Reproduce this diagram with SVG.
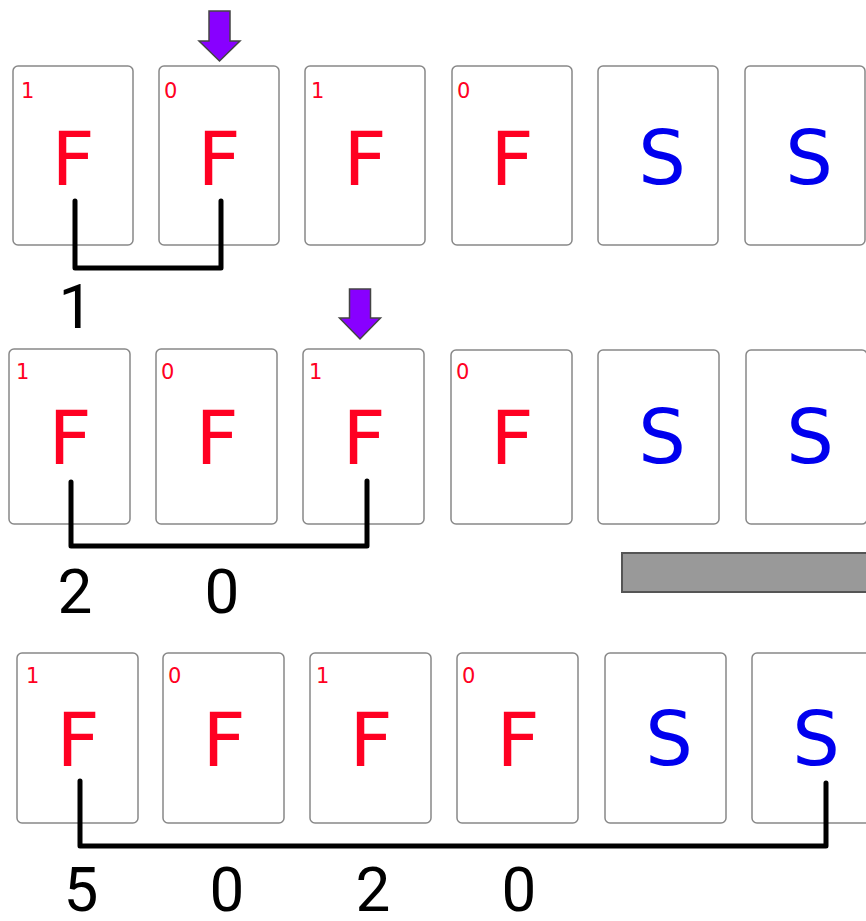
<svg xmlns="http://www.w3.org/2000/svg" width="866" height="921" viewBox="0 0 866 921">
<style>
.card{fill:#fff;stroke:#888;stroke-width:1.5}
.big{font-family:"DejaVu Sans",Verdana,sans-serif;font-size:75px;text-anchor:middle}
.f{fill:#ff0022}
.s{fill:#0000ee}
.sm{font-family:"DejaVu Sans",Verdana,sans-serif;font-size:21px;fill:#ff0022}
.num{font-family:Roboto,"Liberation Sans",sans-serif;font-size:62px;fill:#000;text-anchor:middle}
.br{fill:none;stroke:#000;stroke-width:5;stroke-linejoin:round;stroke-linecap:round}
.arrow{fill:#8800ff;stroke:#444;stroke-width:1.5}
</style>
<rect width="866" height="921" fill="#fff"/>

<!-- Row 1 -->
<g id="r1c1"><rect class="card" x="13" y="66" width="120" height="179" rx="5"/><text class="sm" x="21" y="98">1</text><text class="big f" x="73" y="185">F</text></g>
<g id="r1c2"><rect class="card" x="159" y="66" width="120" height="179" rx="5"/><text class="sm" x="164" y="98">0</text><text class="big f" x="219" y="185">F</text></g>
<g id="r1c3"><rect class="card" x="305" y="66" width="120" height="179" rx="5"/><text class="sm" x="311" y="98">1</text><text class="big f" x="365" y="185">F</text></g>
<g id="r1c4"><rect class="card" x="452" y="66" width="120" height="179" rx="5"/><text class="sm" x="457" y="98">0</text><text class="big f" x="512" y="185">F</text></g>
<g id="r1c5"><rect class="card" x="598" y="66" width="120" height="179" rx="5"/><text class="big s" x="662" y="184">S</text></g>
<g id="r1c6"><rect class="card" x="745" y="66" width="120" height="179" rx="5"/><text class="big s" x="809" y="184">S</text></g>
<g id="arrow1"><path class="arrow" d="M209 11 H230 V41 H240 L219.5 61 L199 41 H209 Z"/></g>

<!-- Row 2 -->
<g id="r2c1"><rect class="card" x="9" y="349" width="121" height="175" rx="5"/><text class="sm" x="16" y="379">1</text><text class="big f" x="70" y="464">F</text></g>
<g id="r2c2"><rect class="card" x="156" y="349" width="121" height="175" rx="5"/><text class="sm" x="161" y="379">0</text><text class="big f" x="217" y="464">F</text></g>
<g id="r2c3"><rect class="card" x="303" y="349" width="121" height="175" rx="5"/><text class="sm" x="309" y="379">1</text><text class="big f" x="364" y="464">F</text></g>
<g id="r2c4"><rect class="card" x="451" y="350" width="121" height="174" rx="5"/><text class="sm" x="456" y="379">0</text><text class="big f" x="512" y="464">F</text></g>
<g id="r2c5"><rect class="card" x="598" y="350" width="121" height="174" rx="5"/><text class="big s" x="662" y="463">S</text></g>
<g id="r2c6"><rect class="card" x="746" y="350" width="121" height="174" rx="5"/><text class="big s" x="810" y="463">S</text></g>
<g id="arrow2"><path class="arrow" d="M349.5 289 H370.5 V318 H380.5 L360 339 L339.5 318 H349.5 Z"/></g>
<g id="bar"><rect x="622" y="553" width="250" height="39" fill="#999" stroke="#555" stroke-width="2"/></g>

<!-- Row 3 -->
<g id="r3c1"><rect class="card" x="17" y="653" width="121" height="170" rx="5"/><text class="sm" x="26" y="683">1</text><text class="big f" x="78" y="766">F</text></g>
<g id="r3c2"><rect class="card" x="163" y="653" width="121" height="170" rx="5"/><text class="sm" x="168" y="683">0</text><text class="big f" x="224" y="766">F</text></g>
<g id="r3c3"><rect class="card" x="310" y="653" width="121" height="170" rx="5"/><text class="sm" x="316" y="683">1</text><text class="big f" x="371" y="766">F</text></g>
<g id="r3c4"><rect class="card" x="457" y="653" width="121" height="170" rx="5"/><text class="sm" x="462" y="683">0</text><text class="big f" x="518" y="766">F</text></g>
<g id="r3c5"><rect class="card" x="605" y="653" width="121" height="170" rx="5"/><text class="big s" x="669" y="765">S</text></g>
<g id="r3c6"><rect class="card" x="752" y="653" width="121" height="170" rx="5"/><text class="big s" x="816" y="765">S</text></g>

<!-- Connectors -->
<g id="connectors">
<path class="br" d="M75 201 V268 H221 V201"/>
<path class="br" d="M71 482 V546 H367 V481"/>
<path class="br" d="M80 781 V846 H826 V783"/>
</g>

<!-- Labels -->
<g id="labels">
<text class="num" x="76" y="328">1</text>
<text class="num" x="75" y="613">2</text>
<text class="num" x="222" y="613">0</text>
<text class="num" x="81" y="911">5</text>
<text class="num" x="227" y="911">0</text>
<text class="num" x="373" y="911">2</text>
<text class="num" x="519" y="911">0</text>
</g>
</svg>
